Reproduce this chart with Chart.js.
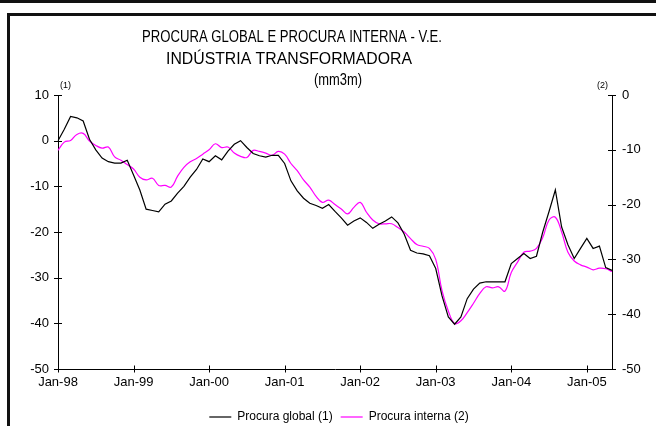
<!DOCTYPE html>
<html><head><meta charset="utf-8">
<script src="https://cdn.jsdelivr.net/npm/chart.js@4/dist/chart.umd.min.js"></script>
<style>
html,body{margin:0;padding:0;background:#fff;overflow:hidden;width:656px;height:426px;}
#topbar{position:absolute;left:0;top:0;width:656px;height:3px;background:#111;}
#frame{position:absolute;left:7px;top:13px;width:700px;height:500px;border:3px solid #111;box-sizing:border-box;}
#c{position:absolute;left:0;top:0;}
</style></head><body>
<div id="topbar"></div><div id="frame"></div>
<canvas id="c" width="656" height="436"></canvas>
<script>
const MONTHS = ['Jan','Feb','Mar','Apr','May','Jun','Jul','Aug','Sep','Oct','Nov','Dec'];
const YEARS = ['98','99','00','01','02','03','04','05'];
const N_MONTHS = 89; // Jan-98 .. May-05
const categories = [];
for (let i = 0; i < N_MONTHS; i++) categories.push(MONTHS[i % 12] + '-' + YEARS[Math.floor(i / 12)]);

// Procura global (1) - left axis
const procuraGlobal = [
  0, 2.5, 5.3, 5.0, 4.3, 0.3, -2.0, -3.8, -4.6, -4.9, -4.9, -4.3,
  -7.5, -10.8, -15.0, -15.3, -15.6, -13.9, -13.2, -11.5, -10.0, -8.0, -6.3, -4.0,
  -4.6, -3.3, -4.2, -2.3, -0.8, 0, -1.5, -2.8, -3.3, -3.6, -3.2, -3.2,
  -5.0, -8.8, -11.0, -12.6, -13.7, -14.2, -14.8, -14.0, -15.5, -16.9, -18.5, -17.6,
  -16.9, -17.9, -19.2, -18.3, -17.6, -16.7, -18.0, -20.5, -24.0, -24.6, -24.8, -25.2,
  -28.0, -34.0, -38.6, -40.2, -38.6, -34.6, -32.5, -31.2, -30.9, -30.9, -30.9, -30.9,
  -26.9, -25.8, -24.7, -25.8, -25.3, -20.0, -15.5, -10.8, -18.9, -22.8, -25.8, -23.6,
  -21.4, -23.6, -23.1, -27.8, -28.4
];
// Procura interna (2) - right axis
const procuraInterna = [
  -10.1, -8.6, -8.3, -7.2, -7.0, -8.4, -9.2, -9.7, -9.5, -11.3, -11.9, -12.7,
  -13.5, -15.0, -15.5, -15.2, -16.5, -16.5, -16.8, -14.8, -13.2, -12.2, -11.6, -10.8,
  -10.0, -8.9, -9.6, -9.5, -10.6, -11.2, -11.4, -10.1, -10.3, -10.6, -11.0, -10.3,
  -10.8, -12.5, -13.8, -15.5, -16.8, -18.5, -19.6, -19.2, -20.0, -20.8, -21.7, -20.5,
  -19.6, -21.4, -22.8, -23.5, -23.5, -23.5, -24.2, -25.0, -26.2, -27.3, -27.6, -28.0,
  -30.0, -35.7, -39.4, -41.7, -41.2, -39.7, -38.0, -36.2, -35.0, -35.2, -35.0, -35.8,
  -32.4, -30.5, -28.7, -28.5, -28.0, -26.0, -22.8, -22.3, -25.0, -28.7, -30.3, -31.0,
  -31.4, -31.9, -31.6, -31.7, -32.2
];
const leftTicks = [10, 0, -10, -20, -30, -40, -50];
const rightTicks = [0, -10, -20, -30, -40, -50];
const titleLines = ['PROCURA GLOBAL E PROCURA INTERNA - V.E.', 'INDÚSTRIA TRANSFORMADORA', '(mm3m)'];
const axisNotes = ['(1)', '(2)'];
const seriesNames = ['Procura global (1)', 'Procura interna (2)'];

const FONT = "'Liberation Sans', Arial, sans-serif";

function fitText(ctx, text, cx, y, targetW) {
  const w = ctx.measureText(text).width;
  const k = targetW / w;
  ctx.save();
  ctx.translate(cx, y);
  ctx.scale(k, 1);
  ctx.textAlign = 'center';
  ctx.fillText(text, 0, 0);
  ctx.restore();
}

const decorations = {
  id: 'decorations',
  afterDraw(chart) {
    const ctx = chart.ctx, a = chart.chartArea;
    ctx.save();
    ctx.fillStyle = '#000';
    ctx.textBaseline = 'alphabetic';
    ctx.font = '16px ' + FONT;
    fitText(ctx, titleLines[0], 292, 42, 300);
    fitText(ctx, titleLines[1], 289, 63.5, 246);
    fitText(ctx, titleLines[2], 338, 85, 48);
    ctx.font = '9px ' + FONT;
    ctx.textAlign = 'left';
    ctx.fillText(axisNotes[0], a.left + 2, 88);
    ctx.textAlign = 'right';
    ctx.fillText(axisNotes[1], a.right - 4, 88);
    // crossing tick marks
    ctx.strokeStyle = '#000';
    ctx.lineWidth = 1;
    const seg = (x1, y1, x2, y2) => { ctx.beginPath(); ctx.moveTo(x1, y1); ctx.lineTo(x2, y2); ctx.stroke(); };
    const xs = chart.scales.x;
    categories.forEach((c, i) => {
      if (i % 12 === 0) {
        const px = Math.round(xs.getPixelForValue(i)) + 0.5;
        seg(px, a.bottom - 3.5, px, a.bottom + 3.5);
      }
    });
    const yl = chart.scales.yL, yr = chart.scales.yR;
    leftTicks.forEach(v => {
      const py = Math.round(yl.getPixelForValue(v)) + 0.5;
      seg(a.left - 4, py, a.left + 4, py);
    });
    rightTicks.forEach(v => {
      const py = Math.round(yr.getPixelForValue(v)) + 0.5;
      seg(a.right - 4, py, a.right + 4, py);
    });
    ctx.restore();
  }
};

new Chart(document.getElementById('c'), {
  type: 'line',
  data: {
    labels: categories,
    datasets: [
      { label: seriesNames[0], data: procuraGlobal, yAxisID: 'yL', borderColor: '#000000', backgroundColor: '#000000', borderWidth: 1.2, pointRadius: 0, tension: 0 },
      { label: seriesNames[1], data: procuraInterna, yAxisID: 'yR', borderColor: '#ff00ff', backgroundColor: '#ff00ff', borderWidth: 1.2, pointRadius: 0, tension: 0.4 }
    ]
  },
  options: {
    responsive: false,
    animation: false,
    layout: { padding: { left: 22, right: 0, top: 95, bottom: 3 } },
    plugins: {
      title: { display: false },
      tooltip: { enabled: false },
      legend: {
        position: 'bottom',
        labels: {
          usePointStyle: true, pointStyle: 'line', pointStyleWidth: 22,
          padding: 8, color: '#000', font: { family: FONT, size: 12 }
        }
      }
    },
    scales: {
      x: {
        type: 'category', offset: false,
        grid: { display: false, drawTicks: false },
        border: { display: true, color: '#000', width: 1 },
        ticks: {
          autoSkip: false, maxRotation: 0, minRotation: 0, padding: 6, color: '#000',
          font: { family: FONT, size: 13 },
          callback: (v, i) => (i % 12 === 0 ? categories[i] : '')
        },
        afterFit: s => { s.height = 34; }
      },
      yL: {
        position: 'left', min: -50, max: 10,
        grid: { display: false, drawTicks: false },
        border: { display: true, color: '#000', width: 1 },
        ticks: { stepSize: 10, padding: 9, color: '#000', font: { family: FONT, size: 13 } },
        afterFit: s => { s.width = 36; }
      },
      yR: {
        position: 'right', min: -50, max: 0,
        grid: { display: false, drawTicks: false },
        border: { display: true, color: '#000', width: 1 },
        ticks: { stepSize: 10, padding: 10, color: '#000', font: { family: FONT, size: 13 } },
        afterFit: s => { s.width = 44; }
      }
    }
  },
  plugins: [decorations]
});
</script>
</body></html>
